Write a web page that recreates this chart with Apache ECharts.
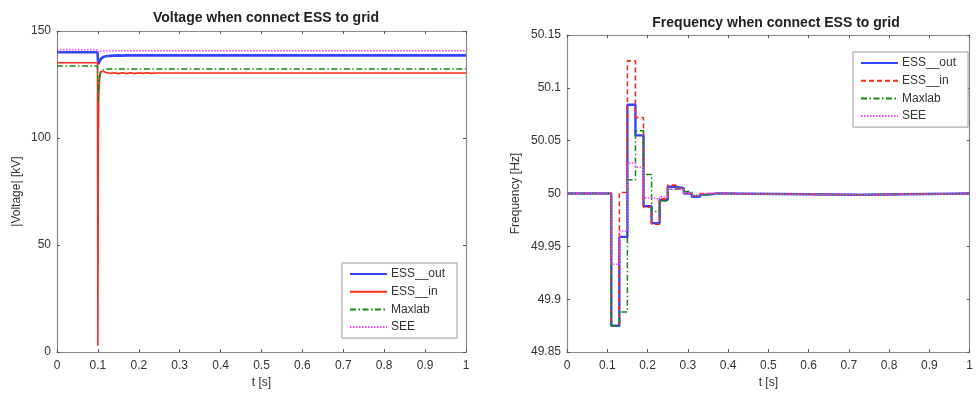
<!DOCTYPE html>
<html>
<head>
<meta charset="utf-8">
<script src="https://cdn.jsdelivr.net/npm/echarts@6/dist/echarts.min.js"></script>
<style>
html,body{margin:0;padding:0;background:#fff;}
#c{width:976px;height:394px;}
</style>
</head>
<body>
<div id="c"></div>
<script>
// ---- Voltage chart data ----
var tV   = [0, 0.099, 0.1, 0.101, 0.102, 0.104, 0.106, 0.108, 0.11, 0.115, 0.12, 0.13, 0.14, 0.15, 0.16, 0.17, 0.18, 0.19, 0.2, 0.21, 0.22, 0.23, 0.24, 0.26, 0.3, 1.0];
var vOut = [140.1, 140.1, 137.0, 134.5, 134.8, 135.8, 136.6, 137.2, 137.6, 138.0, 138.2, 138.4, 138.5, 138.6, 138.5, 138.6, 138.6, 138.6, 138.6, 138.6, 138.6, 138.6, 138.6, 138.6, 138.6, 138.6];
var vIn  = [135.2, 135.2, 3, 95, 120, 127, 130, 131.2, 131.5, 131.0, 130.6, 130.3, 130.5, 130.1, 130.5, 130.1, 130.5, 130.1, 130.5, 130.2, 130.5, 130.2, 130.4, 130.4, 130.4, 130.4];
var vMax = [133.6, 133.6, 125, 117, 124, 129, 130.5, 131.2, 131.6, 132.0, 132.2, 132.3, 132.3, 132.3, 132.3, 132.3, 132.3, 132.3, 132.3, 132.3, 132.3, 132.3, 132.3, 132.3, 132.3, 132.3];
var vSee = [141.2, 141.2, 140.2, 139.6, 139.9, 140.3, 140.5, 140.6, 140.7, 140.7, 140.8, 140.8, 140.8, 140.8, 140.8, 140.8, 140.8, 140.8, 140.8, 140.8, 140.8, 140.8, 140.8, 140.8, 140.8, 140.8];

// ---- Frequency chart data (values hold from each time until the next) ----
var tF   = [0, 0.11, 0.13, 0.15, 0.17, 0.19, 0.21, 0.23, 0.25, 0.27, 0.29, 0.31, 0.33, 0.35, 0.37, 0.39, 0.73, 1.0];
var fOut = [50, 49.875, 49.959, 50.084, 50.055, 49.988, 49.972, 49.994, 50.0065, 50.005, 50.0, 49.997, 49.999, 50.0, 50.0, 49.9988, 50.0, 50.0];
var fIn  = [50, 49.875, 50.001, 50.1255, 50.072, 49.987, 49.971, 49.995, 50.008, 50.005, 50.0, 49.998, 50.0, 50.0, 50.0, 49.9988, 50.0, 50.0];
var fMax = [50, 49.875, 49.888, 50.013, 50.0595, 50.018, 49.983, 49.993, 50.004, 50.005, 50.002, 49.998, 49.999, 50.0, 50.0, 49.9988, 50.0, 50.0];
var fSee = [50, 49.933, 49.9645, 50.029, 50.025, 49.996, 49.995, 49.997, 50.004, 50.004, 50.0, 49.998, 50.0, 50.0, 50.0, 49.9988, 50.0, 50.0];

var names = ['ESS__out', 'ESS__in', 'Maxlab', 'SEE'];

function pairs(t, v) { return t.map(function (x, i) { return [x, v[i]]; }); }

var FONT = 'Liberation Sans';
var C_BLUE = '#3344ff', C_RED = '#ff2a1a', C_GREEN = '#138a13', C_MAG = '#ff44ff';
var AX = '#8a8a8a';

function mainX(gi, name) {
  return {
    type: 'value', gridIndex: gi, min: 0, max: 1, interval: 0.1, position: 'bottom',
    name: name, nameLocation: 'middle', nameGap: 21,
    nameTextStyle: {color: '#333', fontSize: 12, fontFamily: FONT},
    axisLine: {show: true, onZero: false, lineStyle: {color: AX, width: 1.2}},
    axisTick: {show: true, inside: true, length: 3, lineStyle: {color: '#555'}},
    axisLabel: {color: '#333', fontSize: 12, fontFamily: FONT, margin: 8},
    splitLine: {show: false}
  };
}
function topX(gi) {
  return {
    type: 'value', gridIndex: gi, min: 0, max: 1, interval: 0.1, position: 'top',
    axisLine: {show: true, onZero: false, lineStyle: {color: AX, width: 1.2}},
    axisTick: {show: true, inside: true, length: 3, lineStyle: {color: '#555'}},
    axisLabel: {show: false}, splitLine: {show: false}
  };
}
function mainY(gi, min, max, iv, name, gap) {
  return {
    type: 'value', gridIndex: gi, min: min, max: max, interval: iv, position: 'left',
    name: name, nameLocation: 'middle', nameGap: gap, nameRotate: 90,
    nameTextStyle: {color: '#333', fontSize: 12, fontFamily: FONT},
    axisLine: {show: true, onZero: false, lineStyle: {color: AX, width: 1.2}},
    axisTick: {show: true, inside: true, length: 3, lineStyle: {color: '#555'}},
    axisLabel: {color: '#333', fontSize: 12, fontFamily: FONT, margin: 6,
      formatter: function (v) { return String(Math.round(v * 1000) / 1000); }},
    splitLine: {show: false}
  };
}
function rightY(gi, min, max, iv) {
  return {
    type: 'value', gridIndex: gi, min: min, max: max, interval: iv, position: 'right',
    axisLine: {show: true, onZero: false, lineStyle: {color: AX, width: 1.2}},
    axisTick: {show: true, inside: true, length: 3, lineStyle: {color: '#555'}},
    axisLabel: {show: false}, splitLine: {show: false}
  };
}

var styles = [
  {color: C_BLUE, width: 2.6, type: 'solid'},
  {color: C_RED, width: 1.6, type: 'solid'},
  {color: C_GREEN, width: 1.5, type: [6, 2.5, 1.5, 2.5]},
  {color: C_MAG, width: 1.5, type: [1.5, 1.5]}
];
var stylesF = [
  {color: C_BLUE, width: 2.4, type: 'solid'},
  {color: C_RED, width: 1.6, type: [5, 3]},
  {color: C_GREEN, width: 1.5, type: [6, 2.5, 1.5, 2.5]},
  {color: C_MAG, width: 1.5, type: [1.5, 1.5]}
];

var vData = [vOut, vIn, vMax, vSee];
var fData = [fOut, fIn, fMax, fSee];
var series = [];
names.forEach(function (n, i) {
  series.push({
    type: 'line', name: n, xAxisIndex: 0, yAxisIndex: 0,
    data: pairs(tV, vData[i]), showSymbol: false, symbol: 'none',
    lineStyle: styles[i], itemStyle: {color: styles[i].color}, z: 2 + i, silent: true
  });
});
names.forEach(function (n, i) {
  series.push({
    type: 'line', name: n + ' (f)', xAxisIndex: 2, yAxisIndex: 2, step: 'end',
    data: pairs(tF, fData[i]), showSymbol: false, symbol: 'none',
    lineStyle: stylesF[i], itemStyle: {color: stylesF[i].color}, z: 2 + i, silent: true
  });
});

function legend(left, top, list) {
  return {
    orient: 'vertical', left: left, top: top, data: list,
    itemWidth: 37, itemHeight: 12, itemGap: 5.7,
    padding: [5, 12, 5, 7],
    borderColor: '#9a9a9a', borderWidth: 1, backgroundColor: '#fff',
    itemStyle: {opacity: 0, borderWidth: 0},
    textStyle: {color: '#333', fontSize: 12, fontFamily: FONT, padding: [0, 0, 0, -1]},
    formatter: function (n) { return n.replace(' (f)', ''); },
    selectedMode: false
  };
}

var option = {
  animation: false,
  backgroundColor: '#fff',
  title: [
    {text: 'Voltage when connect ESS to grid', left: 261, top: 6, textAlign: 'center',
     textStyle: {fontSize: 14, fontWeight: 'bold', color: '#222', fontFamily: FONT}},
    {text: 'Frequency when connect ESS to grid', left: 771, top: 11, textAlign: 'center',
     textStyle: {fontSize: 14, fontWeight: 'bold', color: '#222', fontFamily: FONT}}
  ],
  grid: [
    {left: 57, right: 510, top: 31, bottom: 40, containLabel: false},
    {left: 567, right: -1, top: 35, bottom: 37, containLabel: false}
  ],
  xAxis: [mainX(0, 't [s]'), topX(0), mainX(1, 't [s]'), topX(1)],
  yAxis: [
    mainY(0, 0, 150, 50, '|Voltage| [kV]', 34), rightY(0, 0, 150, 50),
    mainY(1, 49.85, 50.15, 0.05, 'Frequency [Hz]', 45), rightY(1, 49.85, 50.15, 0.05)
  ],
  legend: [
    legend(342, 263, names),
    legend(853, 52, names.map(function (n) { return n + ' (f)'; }))
  ],
  series: series
};

var chart = echarts.init(document.getElementById('c'), null, {renderer: 'canvas'});
chart.setOption(option);
</script>
</body>
</html>
